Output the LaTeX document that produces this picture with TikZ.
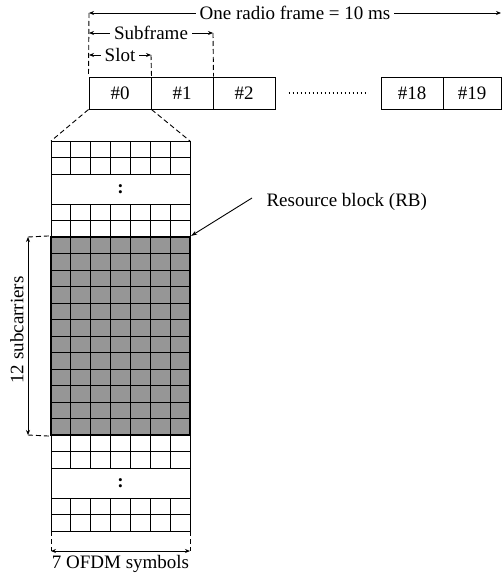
\documentclass[tikz,border=0pt]{standalone}
\usepackage{fontspec}
\setmainfont{Liberation Serif}
\usetikzlibrary{positioning,arrows.meta,calc}
\definecolor{rbgray}{RGB}{150,150,150}

\begin{document}
\begin{tikzpicture}[x=1pt,y=-1pt,
  every node/.style={font=\fontsize{19}{22}\selectfont},
  slotbox/.style={draw,line width=1pt,minimum width=62pt,minimum height=32pt,inner sep=0pt},
  cell/.style={draw,line width=1pt},
  rbcell/.style={cell,fill=rbgray},
  rbbox/.style={draw,line width=2.2pt,minimum width=139pt,minimum height=198pt,inner sep=0pt},
  guide/.style={dash pattern=on 5pt off 3pt,line width=0.9pt},
  span/.style={{Stealth[length=5pt,width=4pt]}-{Stealth[length=5pt,width=4pt]},line width=0.9pt},
  pointer/.style={-{Stealth[length=6pt,width=4pt]},line width=0.9pt},
  spantext/.style={fill=white,inner sep=4pt},
  dotline/.style={line width=1.8pt,dash pattern=on 1.8pt off 2.2pt}
]
\useasboundingbox (0,0) rectangle (502,578);

% the slots of one frame
\foreach \i/\x in {0/120,1/182,2/244,18/412}
  \node[slotbox] (s\i) at (\x,93) {\#\i};
\node[slotbox,minimum width=58pt] (s19) at (472,93) {\#19};
\draw[dotline] ([xshift=13pt]s2.east) -- ([xshift=-14pt]s18.west);

% the grid of one slot
\foreach \y in {141,157.5,204,220.5,435,451.5,498,514.5}
  \foreach \c in {0,...,6}
    \draw[cell] (51+\c*19.857,\y) rectangle ++(19.857,16.5);
\foreach \r in {0,...,11}
  \foreach \c in {0,...,6}
    \draw[rbcell] (51+\c*19.857,237+\r*16.5) rectangle ++(19.857,16.5);
\coordinate (gnw) at (51,141);
\coordinate (gne) at (190,141);
\coordinate (gsw) at (51,531);
\coordinate (gse) at (190,531);
\draw[cell] (gnw) -- (gsw);
\draw[cell] (gne) -- (gse);
\node (dots1) at (120.5,189) {\textbf{:}};
\node (dots2) at (120.5,483) {\textbf{:}};

% the resource block
\node[rbbox] (rb) at (120.5,336) {};
\node[anchor=west] (rbtext) at (263,202) {Resource block (RB)};
\draw[pointer] ([xshift=-11pt,yshift=4pt]rbtext.west) -- (rb.north east);

% zoom from slot #0
\draw[guide] (s0.south west) -- (gnw);
\draw[guide] (s0.south east) -- (gne);

% the spans above the slots
\coordinate (fl) at (89,13);
\coordinate (fr) at (501,13);
\coordinate (sfl) at (89,33);
\coordinate (sfr) at (213,33);
\coordinate (sll) at (89,55);
\coordinate (slr) at (151,55);
\draw[guide] (fl) -- (s0.north west);
\draw[guide] (sfr) -- (s1.north east);
\draw[guide] (slr) -- (s0.north east);
\draw[span] (fl) -- node[spantext] {One radio frame = 10 ms} (fr);
\draw[span] (sfl) -- node[spantext] {Subframe} (sfr);
\draw[span] (sll) -- node[spantext] {Slot} (slr);

% the subcarriers
\coordinate (lt) at (28,237);
\coordinate (lb) at (28,435);
\draw[guide] (lt) -- (rb.north west);
\draw[guide] (lb) -- (rb.south west);
\draw[span] (lt) -- (lb);
\node[rotate=90] (subc) at (17,330) {12 subcarriers};

% the OFDM symbols
\coordinate (bl) at (51,551);
\coordinate (br) at (190,551);
\draw[guide] (gsw) -- (bl);
\draw[guide] (gse) -- (br);
\draw[span] (bl) -- (br);
\node (ofdm) at (120.5,563.5) {7 OFDM symbols};
\end{tikzpicture}
\end{document}
